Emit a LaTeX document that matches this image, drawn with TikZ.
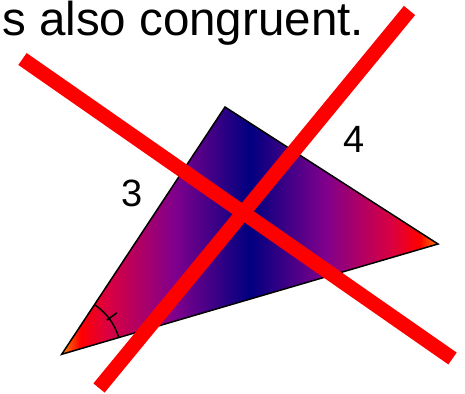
\documentclass[tikz,border=0pt]{standalone}
\usepackage{fontspec}
\setmainfont{Liberation Sans}
\pgfdeclarehorizontalshading{trigrad}{100bp}{%
  rgb(0bp)=(1,0.5,0);
  rgb(25bp)=(1,0.5,0);
  rgb(27.5bp)=(1,0,0);
  rgb(31bp)=(0.86,0,0.25);
  rgb(40bp)=(0.5,0,0.55);
  rgb(50bp)=(0,0,0.5);
  rgb(60bp)=(0.5,0,0.55);
  rgb(69bp)=(0.86,0,0.25);
  rgb(72.5bp)=(1,0,0);
  rgb(75bp)=(1,0.5,0);
  rgb(100bp)=(1,0.5,0)}
\tikzset{
  tri/.style={draw=black, line width=1.5pt, shading=trigrad, line join=miter},
  anglemark/.style={draw=black, line width=1.5pt},
  cross/.style={draw=red, line width=14.5pt},
  lbl/.style={inner sep=0pt, font=\fontsize{38}{40}\selectfont},
}
\begin{document}
\begin{tikzpicture}[x=1pt,y=1pt]
\useasboundingbox (0,0) rectangle (465,393);
% triangle vertices
\coordinate (A) at (61.7,38.7);
\coordinate (B) at (225,286);
\coordinate (C) at (438,149);
\path[tri] (A) -- (B) -- (C) -- cycle;
% angle mark
\draw[anglemark] (A) ++(16.3:59.5) arc[start angle=16.3, end angle=56.4, radius=59.5];
\draw[anglemark] (A) ++(37:56.5) -- ++(37:12.5);
% labels
\node[anchor=base west, inner sep=0pt, font=\fontsize{47.5}{52}\selectfont] (title) at (2,357) {s also congruent.};
\node[lbl] (three) at (131.7,199.7) {3};
\node[lbl] (four) at (354,254) {4};
% red cross
\coordinate (L1a) at (22.5,334);
\coordinate (L1b) at (452.5,34.5);
\coordinate (L2a) at (409.5,382.5);
\coordinate (L2b) at (99,5);
\draw[cross] (L1a) -- (L1b);
\draw[cross] (L2a) -- (L2b);
\end{tikzpicture}
\end{document}
